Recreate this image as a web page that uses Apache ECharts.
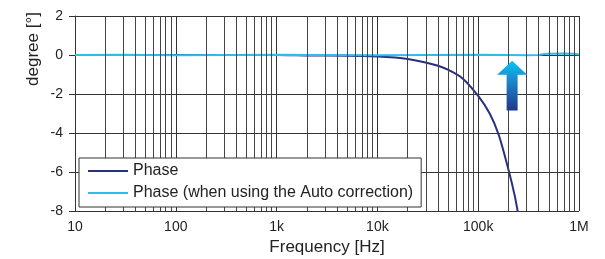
<!DOCTYPE html>
<html>
<head>
<meta charset="utf-8">
<script src="https://cdn.jsdelivr.net/npm/echarts@6/dist/echarts.min.js"></script>
<style>
  html, body { margin: 0; padding: 0; background: #fff; }
  #chart { width: 605px; height: 259px; }
</style>
</head>
<body>
<div id="chart"></div>
<script>
// frequency ticks (decades) and their labels
var decades = [1, 2, 3, 4, 5, 6];
var tickLabels = ['10', '100', '1k', '10k', '100k', '1M'];

// Phase without correction
var phaseFreq = [10, 20, 50, 100, 200, 500, 1000, 2000, 5000, 10000, 15000, 20000, 30000, 40000, 50000, 70000, 100000, 130000, 160000, 200000, 230000, 250000];
var phaseVal  = [0, 0, 0, 0, 0, 0, 0, -0.02, -0.04, -0.08, -0.13, -0.2, -0.38, -0.55, -0.75, -1.2, -2.1, -3.0, -4.1, -5.9, -7.2, -8.2];

// Phase with auto correction
var autoFreq = [10, 30, 100, 300, 1000, 3000, 10000, 30000, 100000, 200000, 300000, 400000, 450000, 500000, 700000, 900000, 1000000];
var autoVal  = [0, 0.01, -0.01, 0, 0.01, 0, -0.01, 0, 0.01, 0, -0.01, 0, 0.05, 0.07, 0.08, 0.06, 0.03];

function toPoints(f, v) {
    return f.map(function(x, i) { return [Math.log10(x), v[i]]; });
}

// minor grid lines at 2..9 x each decade
var minorLines = [];
for (var d = 1; d < 6; d++) {
    for (var k = 2; k <= 9; k++) {
        minorLines.push({ xAxis: Math.log10(k * Math.pow(10, d)) });
    }
}

var chart = echarts.init(document.getElementById('chart'));
var font = 'Liberation Sans, Arial, Helvetica, sans-serif';

var option = {
    animation: false,
    grid: { left: 75, right: 26, top: 16, bottom: 48, outerBoundsMode: 'none', containLabel: false },
    textStyle: { fontFamily: font },
    xAxis: {
        type: 'value',
        min: 1, max: 6, interval: 1,
        name: 'Frequency [Hz]',
        nameLocation: 'middle',
        nameGap: 25,
        nameTextStyle: { fontSize: 17, color: '#222', fontFamily: font },
        axisLine: { show: true, lineStyle: { color: '#333', width: 1 } },
        axisTick: { show: false },
        axisLabel: {
            fontSize: 14, color: '#222', margin: 9, fontFamily: font,
            formatter: function(v) { return tickLabels[decades.indexOf(Math.round(v))] || ''; }
        },
        splitLine: { show: true, lineStyle: { color: '#333', width: 1 } }
    },
    yAxis: {
        type: 'value',
        min: -8, max: 2, interval: 2,
        axisLine: { show: true, lineStyle: { color: '#333', width: 1 } },
        axisTick: { show: true, length: 6, lineStyle: { color: '#333' } },
        axisLabel: { fontSize: 14, color: '#222', margin: 12, fontFamily: font },
        splitLine: { show: true, lineStyle: { color: '#333', width: 1 } }
    },
    legend: {
        orient: 'vertical',
        left: 79, top: 158,
        z: 20,
        backgroundColor: '#fff',
        borderColor: '#333', borderWidth: 1, borderRadius: 0,
        padding: [5, 8, 6, 9],
        itemWidth: 40, itemHeight: 2, itemGap: 6,
        icon: 'rect',
        textStyle: { fontSize: 16, color: '#222', fontFamily: font, lineHeight: 16 },
        data: ['Phase', 'Phase (when using the Auto correction)']
    },
    series: [
        {
            name: 'grid',
            type: 'line',
            data: [],
            silent: true,
            markLine: {
                silent: true,
                symbol: 'none',
                label: { show: false },
                lineStyle: { color: '#444', width: 1, type: 'solid' },
                emphasis: { disabled: true },
                data: minorLines
            }
        },
        {
            name: 'Phase',
            type: 'line',
            data: toPoints(phaseFreq, phaseVal),
            symbol: 'none',
            smooth: 0.3,
            color: '#27307f',
            lineStyle: { width: 2, color: '#27307f' }
        },
        {
            name: 'Phase (when using the Auto correction)',
            type: 'line',
            data: toPoints(autoFreq, autoVal),
            symbol: 'none',
            color: '#2cbdec',
            lineStyle: { width: 2, color: '#2cbdec' }
        }
    ]
};

chart.setOption(option);

// gradient arrow annotation near 217 kHz
var ax = Math.log10(217000);
var tip = chart.convertToPixel({ gridIndex: 0 }, [ax, -0.3]);
var base = chart.convertToPixel({ gridIndex: 0 }, [ax, -2.85]);
var headH = 14, headW = 15, shaftW = 5.5;
var hb = tip[1] + headH;
chart.setOption({
    graphic: [
        {
            type: 'polygon',
            z: 100,
            shape: {
                points: [
                    [tip[0], tip[1]],
                    [tip[0] + headW, hb],
                    [tip[0] + shaftW, hb],
                    [tip[0] + shaftW, base[1]],
                    [tip[0] - shaftW, base[1]],
                    [tip[0] - shaftW, hb],
                    [tip[0] - headW, hb]
                ]
            },
            style: {
                fill: new echarts.graphic.LinearGradient(0, 0, 0, 1, [
                    { offset: 0, color: '#05c6f4' },
                    { offset: 0.35, color: '#1a8fd0' },
                    { offset: 1, color: '#20368a' }
                ])
            }
        },
        {
            type: 'text',
            left: 25, top: 12,
            rotation: Math.PI / 2,
            style: {
                text: 'degree [°]',
                font: '17px ' + font,
                fill: '#222'
            }
        }
    ]
});
</script>
</body>
</html>
